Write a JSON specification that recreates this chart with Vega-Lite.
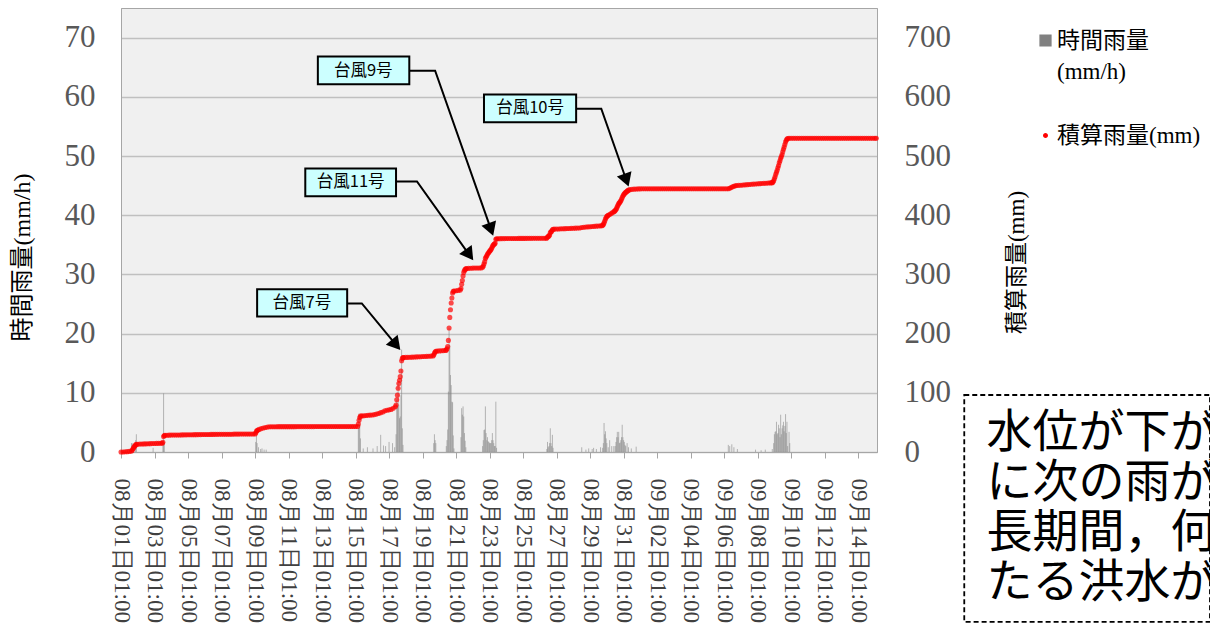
{
"$schema": "https://vega.github.io/schema/vega-lite/v6.json",
"width": 756, "height": 444,
"autosize": {"type": "none"},
"padding": {"left": 121, "top": 8, "right": 333, "bottom": 182},
"background": "white",
"config": {"view": {"fill": "#f0f0f0", "stroke": "#a6a6a6", "strokeWidth": 1}, "axis": {"titleFontWeight": "normal"}},
"layer": [
{"layer": [
{"data": {"values": [
{"t":"0801 16","r":1.5},{"t":"0801 17","r":1.5},{"t":"0801 22","r":2},{"t":"0801 23","r":3},{"t":"0802 23","r":0.7},
{"t":"0803 13","r":1.5},{"t":"0803 14","r":9.9},{"t":"0803 15","r":1.6},
{"t":"0809 02","r":1.7},{"t":"0809 03","r":2.7},{"t":"0809 04","r":1.5},{"t":"0809 06","r":0.8},{"t":"0809 09","r":0.5},{"t":"0809 11","r":0.6},{"t":"0809 14","r":0.4},{"t":"0809 17","r":0.4},
{"t":"0815 05","r":4},{"t":"0815 06","r":6.5},{"t":"0815 07","r":4.6},{"t":"0815 08","r":2.3},{"t":"0815 12","r":0.6},{"t":"0815 18","r":0.8},
{"t":"0816 02","r":0.6},{"t":"0816 08","r":1.0},{"t":"0816 13","r":2.9},{"t":"0816 17","r":1.1},{"t":"0816 20","r":1.0},
{"t":"0817 01","r":1.7},{"t":"0817 06","r":1.5},{"t":"0817 09","r":0.8},{"t":"0817 11","r":3},{"t":"0817 12","r":8.8},{"t":"0817 13","r":7.7},{"t":"0817 14","r":11.6},{"t":"0817 15","r":8},{"t":"0817 16","r":5.7},{"t":"0817 17","r":6},{"t":"0817 18","r":9.6},{"t":"0817 19","r":17.3},{"t":"0817 20","r":4},{"t":"0817 21","r":1.2},
{"t":"0819 17","r":1.5},{"t":"0819 18","r":3},{"t":"0819 19","r":2},{"t":"0819 20","r":1.5},
{"t":"0820 11","r":1},{"t":"0820 12","r":2},{"t":"0820 13","r":3.8},{"t":"0820 14","r":10.2},{"t":"0820 15","r":20.9},{"t":"0820 16","r":18},{"t":"0820 17","r":13},{"t":"0820 18","r":11.3},{"t":"0820 19","r":8.5},{"t":"0820 20","r":8.4},{"t":"0820 21","r":2.8},{"t":"0820 22","r":0.6},
{"t":"0821 08","r":2.5},{"t":"0821 09","r":7.4},{"t":"0821 10","r":6.3},{"t":"0821 11","r":7.7},{"t":"0821 12","r":6},{"t":"0821 13","r":3.2},{"t":"0821 14","r":1.9},{"t":"0821 15","r":0.8},
{"t":"0822 15","r":1},{"t":"0822 16","r":2},{"t":"0822 17","r":3.7},{"t":"0822 18","r":3.8},{"t":"0822 19","r":7.7},{"t":"0822 20","r":3.2},{"t":"0822 21","r":2},{"t":"0822 22","r":2.5},{"t":"0822 23","r":1.8},{"t":"0823 00","r":1.7},{"t":"0823 01","r":1.5},{"t":"0823 02","r":1.5},{"t":"0823 03","r":1.5},{"t":"0823 04","r":2},{"t":"0823 05","r":3.2},{"t":"0823 06","r":2},{"t":"0823 07","r":1.5},{"t":"0823 08","r":1},{"t":"0823 09","r":1},{"t":"0823 10","r":8.5},{"t":"0823 11","r":0.7},
{"t":"0826 11","r":0.5},{"t":"0826 12","r":1.7},{"t":"0826 13","r":0.8},{"t":"0826 14","r":1},{"t":"0826 15","r":1.5},{"t":"0826 16","r":4},{"t":"0826 17","r":1.5},{"t":"0826 18","r":1},{"t":"0826 19","r":2.9},{"t":"0826 20","r":0.7},
{"t":"0828 13","r":0.8},{"t":"0828 19","r":0.4},{"t":"0828 23","r":0.6},{"t":"0829 04","r":0.5},{"t":"0829 06","r":0.7},{"t":"0829 10","r":0.5},{"t":"0829 16","r":0.8},
{"t":"0829 19","r":0.7},{"t":"0829 20","r":1.5},{"t":"0829 21","r":4.9},{"t":"0829 22","r":3},{"t":"0829 23","r":3.5},{"t":"0830 00","r":2.3},{"t":"0830 01","r":1.5},{"t":"0830 03","r":0.8},{"t":"0830 05","r":2.0},{"t":"0830 08","r":1},{"t":"0830 11","r":1},{"t":"0830 13","r":1},{"t":"0830 14","r":1.7},{"t":"0830 15","r":2.5},{"t":"0830 16","r":3.4},{"t":"0830 17","r":2.5},{"t":"0830 18","r":3.4},{"t":"0830 19","r":1.5},{"t":"0830 20","r":1.6},{"t":"0830 21","r":2},{"t":"0830 22","r":2.5},{"t":"0830 23","r":4.6},{"t":"0831 00","r":2.5},{"t":"0831 01","r":2},{"t":"0831 02","r":1.7},{"t":"0831 03","r":1.2},{"t":"0831 04","r":1},{"t":"0831 06","r":1.5},{"t":"0831 08","r":0.8},{"t":"0831 12","r":0.6},{"t":"0831 19","r":0.9},
{"t":"0906 07","r":1.2},{"t":"0906 09","r":1},{"t":"0906 12","r":1.3},{"t":"0906 15","r":0.8},{"t":"0906 20","r":0.5},{"t":"0907 22","r":0.4},{"t":"0908 06","r":0.3},{"t":"0908 12","r":0.4},{"t":"0908 22","r":0.5},
{"t":"0909 00","r":1.5},{"t":"0909 01","r":3},{"t":"0909 02","r":3.4},{"t":"0909 03","r":3.5},{"t":"0909 04","r":5.1},{"t":"0909 05","r":3},{"t":"0909 06","r":3.2},{"t":"0909 07","r":4.6},{"t":"0909 08","r":4},{"t":"0909 09","r":2.5},{"t":"0909 10","r":6.3},{"t":"0909 11","r":3},{"t":"0909 12","r":4},{"t":"0909 13","r":4.5},{"t":"0909 14","r":5.1},{"t":"0909 15","r":3.5},{"t":"0909 16","r":4.4},{"t":"0909 17","r":6.4},{"t":"0909 18","r":3.2},{"t":"0909 19","r":5.1},{"t":"0909 20","r":1},{"t":"0909 22","r":3.4},{"t":"0909 23","r":1.5}
], "format": {"parse": {"t": "date:'%m%d %H'"}}},
 "mark": {"type": "rule", "strokeWidth": 1, "opacity": 0.55},
 "encoding": {
  "x": {"field": "t", "type": "temporal", "title": null,
   "scale": {"domain": [{"year":1900,"month":8,"date":1,"hours":1},{"year":1900,"month":9,"date":15,"hours":4}]},
   "axis": {"values": [
    {"year":1900,"month":8,"date":1,"hours":1},{"year":1900,"month":8,"date":3,"hours":1},{"year":1900,"month":8,"date":5,"hours":1},{"year":1900,"month":8,"date":7,"hours":1},{"year":1900,"month":8,"date":9,"hours":1},{"year":1900,"month":8,"date":11,"hours":1},{"year":1900,"month":8,"date":13,"hours":1},{"year":1900,"month":8,"date":15,"hours":1},{"year":1900,"month":8,"date":17,"hours":1},{"year":1900,"month":8,"date":19,"hours":1},{"year":1900,"month":8,"date":21,"hours":1},{"year":1900,"month":8,"date":23,"hours":1},{"year":1900,"month":8,"date":25,"hours":1},{"year":1900,"month":8,"date":27,"hours":1},{"year":1900,"month":8,"date":29,"hours":1},{"year":1900,"month":8,"date":31,"hours":1},{"year":1900,"month":9,"date":2,"hours":1},{"year":1900,"month":9,"date":4,"hours":1},{"year":1900,"month":9,"date":6,"hours":1},{"year":1900,"month":9,"date":8,"hours":1},{"year":1900,"month":9,"date":10,"hours":1},{"year":1900,"month":9,"date":12,"hours":1},{"year":1900,"month":9,"date":14,"hours":1}],
    "tickCount": 60, "format": "%m月%d日%H:%M", "formatType": "time", "labelAngle": 90, "labelFont": "Liberation Serif", "labelFontSize": 23, "labelColor": "#404040", "labelPadding": 20, "tickSize": 6, "tickColor": "#a6a6a6", "domainColor": "#a6a6a6", "grid": false, "labelOverlap": false, "labelSeparation": 0, "labelFlush": false, "labelBound": false}},
  "y": {"field": "r", "type": "quantitative", "title": "時間雨量(mm/h)",
   "scale": {"domain": [0, 75], "nice": false, "zero": true},
   "axis": {"values": [0,10,20,30,40,50,60,70], "labelFont": "Liberation Serif", "labelFontSize": 31, "labelColor": "#595959", "labelPadding": 26, "tickSize": 0, "domainColor": "#a6a6a6", "grid": true, "gridColor": "#c0c0c0", "gridWidth": 1.5, "titleFont": "Liberation Serif, Noto Sans CJK JP", "titleFontSize": 24, "titleColor": "#000000", "titlePadding": 30, "titleY": 249}},
  "y2": {"datum": 0},
  "color": {"datum": "時間雨量(mm/h)", "scale": {"domain": ["時間雨量(mm/h)", "積算雨量(mm)"], "range": ["#808080", "#ff0000"]},
   "legend": {"title": null, "orient": "none", "legendX": 913, "legendY": 21, "padding": 0, "labelFont": "Liberation Serif, Noto Sans CJK JP", "labelFontSize": 23, "labelColor": "#000000", "labelLimit": 300, "labelOffset": 0, "rowPadding": 40, "symbolOpacity": 1,
    "labelExpr": "datum.label === '時間雨量(mm/h)' ? ['時間雨量', '(mm/h)'] : datum.label",
    "encode": {"symbols": {"update": {"shape": {"signal": "datum.value === '積算雨量(mm)' ? 'circle' : 'square'"}, "size": {"signal": "datum.value === '積算雨量(mm)' ? 12 : 115"}, "fill": {"signal": "datum.value === '積算雨量(mm)' ? '#ff4040' : '#808080'"}, "stroke": {"value": "transparent"}, "opacity": {"value": 1}}}, "labels": {"update": {"lineHeight": {"value": 31}}}}}}
 }},
{"data": {"values": [
 {"label":"台風7号","t1":"0809 04","t2":"0814 13","v1":22.9,"v2":27.5,"tc":"0811 20","vc":25.2},
 {"label":"台風9号","t1":"0812 19","t2":"0818 06","v1":62.1,"v2":66.8,"tc":"0815 12","vc":64.4},
 {"label":"台風11号","t1":"0812 01","t2":"0817 11","v1":43.2,"v2":47.9,"tc":"0814 18","vc":45.6},
 {"label":"台風10号","t1":"0822 17","t2":"0828 05","v1":55.7,"v2":60.4,"tc":"0825 11","vc":58.1}
], "format": {"parse": {"t1": "date:'%m%d %H'", "t2": "date:'%m%d %H'", "tc": "date:'%m%d %H'"}}},
 "layer": [
  {"mark": {"type": "rect", "fill": "#ccffff", "stroke": "#000000", "strokeWidth": 2},
   "encoding": {"x": {"field": "t1", "type": "temporal", "title": null}, "x2": {"field": "t2"}, "y": {"field": "v1", "type": "quantitative", "title": "時間雨量(mm/h)"}, "y2": {"field": "v2"}}},
  {"mark": {"type": "text", "font": "Noto Sans CJK JP", "fontSize": 16.5, "color": "#000000", "align": "center", "baseline": "middle"},
   "encoding": {"x": {"field": "tc", "type": "temporal", "title": null}, "y": {"field": "vc", "type": "quantitative", "title": "時間雨量(mm/h)"}, "text": {"field": "label"}}}
 ]},
{"data": {"values": [
 {"label":"台風7号","o":1,"t":"0814 13","v":25.1},{"label":"台風7号","o":2,"t":"0815 10","v":25.1},{"label":"台風7号","o":3,"t":"0817 11","v":18.1},
 {"label":"台風9号","o":1,"t":"0818 06","v":64.4},{"label":"台風9号","o":2,"t":"0819 19","v":64.4},{"label":"台風9号","o":3,"t":"0823 03","v":37.6},
 {"label":"台風11号","o":1,"t":"0817 11","v":45.7},{"label":"台風11号","o":2,"t":"0818 17","v":45.7},{"label":"台風11号","o":3,"t":"0821 20","v":33.3},
 {"label":"台風10号","o":1,"t":"0828 05","v":58.0},{"label":"台風10号","o":2,"t":"0829 17","v":58.0},{"label":"台風10号","o":3,"t":"0831 05","v":45.9}
], "format": {"parse": {"t": "date:'%m%d %H'"}}},
 "layer": [
  {"mark": {"type": "line", "color": "#000000", "strokeWidth": 2},
   "encoding": {"x": {"field": "t", "type": "temporal", "title": null}, "y": {"field": "v", "type": "quantitative", "title": "時間雨量(mm/h)"}, "detail": {"field": "label"}, "order": {"field": "o"}}},
  {"transform": [{"filter": "datum.o === 3 && (datum.label === '台風9号' || datum.label === '台風10号')"}],
   "mark": {"type": "point", "shape": "triangle-up", "filled": true, "color": "#000000", "opacity": 1, "size": 240, "angle": 160.6},
   "encoding": {"x": {"field": "t", "type": "temporal", "title": null}, "y": {"field": "v", "type": "quantitative", "title": "時間雨量(mm/h)"}}},
  {"transform": [{"filter": "datum.o === 3 && datum.label === '台風11号'"}],
   "mark": {"type": "point", "shape": "triangle-up", "filled": true, "color": "#000000", "opacity": 1, "size": 240, "angle": 144.5},
   "encoding": {"x": {"field": "t", "type": "temporal", "title": null}, "y": {"field": "v", "type": "quantitative", "title": "時間雨量(mm/h)"}}},
  {"transform": [{"filter": "datum.o === 3 && datum.label === '台風7号'"}],
   "mark": {"type": "point", "shape": "triangle-up", "filled": true, "color": "#000000", "opacity": 1, "size": 240, "angle": 140.1},
   "encoding": {"x": {"field": "t", "type": "temporal", "title": null}, "y": {"field": "v", "type": "quantitative", "title": "時間雨量(mm/h)"}}}
 ]},
{"data": {"values": [
 {"t1":"0920 09","t2":"1005 01","v1":9.63,"v2":-28.7,"tt":"0921 17","vt":6.9,"note":"水位が下が\nに次の雨が\n長期間，何\nたる洪水が"}
], "format": {"parse": {"t1": "date:'%m%d %H'", "t2": "date:'%m%d %H'", "tt": "date:'%m%d %H'"}}},
 "layer": [
  {"mark": {"type": "rect", "fill": "#ffffff", "fillOpacity": 0, "stroke": "#000000", "strokeWidth": 1.8, "strokeDash": [5, 3]},
   "encoding": {"x": {"field": "t1", "type": "temporal", "title": null}, "x2": {"field": "t2"}, "y": {"field": "v1", "type": "quantitative", "title": "時間雨量(mm/h)"}, "y2": {"field": "v2"}}},
  {"mark": {"type": "text", "font": "Noto Sans CJK JP", "fontSize": 46, "lineHeight": 50, "lineBreak": "\n", "color": "#000000", "align": "left", "baseline": "top"},
   "encoding": {"x": {"field": "tt", "type": "temporal", "title": null}, "y": {"field": "vt", "type": "quantitative", "title": "時間雨量(mm/h)"}, "text": {"field": "note"}}}
 ]}
]},
{"data": {"values": [
{"t":"0801 01","c":0},{"t":"0801 04","c":0},{"t":"0801 07","c":0.3},{"t":"0801 10","c":0.6},{"t":"0801 13","c":1},{"t":"0801 16","c":1.5},{"t":"0801 17","c":3},{"t":"0801 18","c":5},{"t":"0801 19","c":7},{"t":"0801 20","c":9},{"t":"0801 21","c":10.5},{"t":"0801 22","c":12},{"t":"0801 23","c":13},
{"t":"0802 01","c":13.2},{"t":"0802 04","c":13.4},{"t":"0802 07","c":13.5},{"t":"0802 10","c":13.7},{"t":"0802 13","c":13.8},{"t":"0802 16","c":14},{"t":"0802 19","c":14.1},{"t":"0802 22","c":14.3},
{"t":"0803 01","c":14.4},{"t":"0803 04","c":14.5},{"t":"0803 07","c":14.6},{"t":"0803 10","c":14.7},{"t":"0803 12","c":14.8},{"t":"0803 13","c":16.3},{"t":"0803 14","c":26.2},{"t":"0803 15","c":27.8},{"t":"0803 16","c":28.2},{"t":"0803 19","c":28.4},{"t":"0803 22","c":28.5},
{"t":"0804 01","c":28.6},{"t":"0804 04","c":28.6},{"t":"0804 07","c":28.7},{"t":"0804 10","c":28.8},{"t":"0804 13","c":28.8},{"t":"0804 16","c":28.9},{"t":"0804 19","c":29},{"t":"0804 22","c":29},
{"t":"0805 01","c":29.1},{"t":"0805 04","c":29.1},{"t":"0805 07","c":29.2},{"t":"0805 10","c":29.3},{"t":"0805 13","c":29.3},{"t":"0805 16","c":29.4},{"t":"0805 19","c":29.4},{"t":"0805 22","c":29.5},
{"t":"0806 01","c":29.5},{"t":"0806 04","c":29.6},{"t":"0806 07","c":29.6},{"t":"0806 10","c":29.7},{"t":"0806 13","c":29.7},{"t":"0806 16","c":29.8},{"t":"0806 19","c":29.8},{"t":"0806 22","c":29.9},
{"t":"0807 01","c":29.9},{"t":"0807 04","c":30},{"t":"0807 07","c":30},{"t":"0807 10","c":30},{"t":"0807 13","c":30.1},{"t":"0807 16","c":30.1},{"t":"0807 19","c":30.2},{"t":"0807 22","c":30.2},
{"t":"0808 01","c":30.2},{"t":"0808 04","c":30.3},{"t":"0808 07","c":30.3},{"t":"0808 10","c":30.3},{"t":"0808 13","c":30.4},{"t":"0808 16","c":30.4},{"t":"0808 19","c":30.4},{"t":"0808 22","c":30.5},
{"t":"0809 01","c":30.5},{"t":"0809 02","c":32.2},{"t":"0809 03","c":34.9},{"t":"0809 04","c":36.4},{"t":"0809 05","c":37.2},{"t":"0809 07","c":38.2},{"t":"0809 10","c":39.5},{"t":"0809 13","c":40.6},{"t":"0809 16","c":41.5},{"t":"0809 19","c":42.2},{"t":"0809 22","c":42.6},
{"t":"0810 01","c":42.7},{"t":"0810 04","c":42.7},{"t":"0810 07","c":42.7},{"t":"0810 10","c":42.8},{"t":"0810 13","c":42.8},{"t":"0810 16","c":42.8},{"t":"0810 19","c":42.8},{"t":"0810 22","c":42.8},
{"t":"0811 01","c":42.8},{"t":"0811 04","c":42.8},{"t":"0811 07","c":42.8},{"t":"0811 10","c":42.8},{"t":"0811 13","c":42.9},{"t":"0811 16","c":42.9},{"t":"0811 19","c":42.9},{"t":"0811 22","c":42.9},
{"t":"0812 01","c":42.9},{"t":"0812 04","c":42.9},{"t":"0812 07","c":42.9},{"t":"0812 10","c":42.9},{"t":"0812 13","c":42.9},{"t":"0812 16","c":43},{"t":"0812 19","c":43},{"t":"0812 22","c":43},
{"t":"0813 01","c":43},{"t":"0813 04","c":43},{"t":"0813 07","c":43},{"t":"0813 10","c":43},{"t":"0813 13","c":43},{"t":"0813 16","c":43},{"t":"0813 19","c":43},{"t":"0813 22","c":43},
{"t":"0814 01","c":43},{"t":"0814 04","c":43},{"t":"0814 07","c":43},{"t":"0814 10","c":43},{"t":"0814 13","c":43.1},{"t":"0814 16","c":43.1},{"t":"0814 19","c":43.1},{"t":"0814 22","c":43.1},
{"t":"0815 01","c":43.1},{"t":"0815 04","c":43.2},{"t":"0815 05","c":47.2},{"t":"0815 06","c":53.7},{"t":"0815 07","c":58.3},{"t":"0815 08","c":60.6},{"t":"0815 10","c":61},{"t":"0815 13","c":61.3},{"t":"0815 16","c":61.6},{"t":"0815 19","c":62},{"t":"0815 22","c":62.3},
{"t":"0816 01","c":62.6},{"t":"0816 04","c":63.2},{"t":"0816 07","c":64},{"t":"0816 10","c":65},{"t":"0816 13","c":66.5},{"t":"0816 16","c":67.5},{"t":"0816 19","c":69.5},{"t":"0816 22","c":70.5},
{"t":"0817 01","c":71.2},{"t":"0817 04","c":72},{"t":"0817 07","c":73.8},{"t":"0817 10","c":76.5},{"t":"0817 11","c":79.5},{"t":"0817 12","c":88.3},{"t":"0817 13","c":96},{"t":"0817 14","c":107.6},{"t":"0817 15","c":115.6},{"t":"0817 16","c":121.3},{"t":"0817 17","c":127.3},{"t":"0817 18","c":136.9},{"t":"0817 19","c":154.2},{"t":"0817 20","c":158.2},{"t":"0817 21","c":159.4},{"t":"0817 22","c":159.7},
{"t":"0818 01","c":159.8},{"t":"0818 04","c":159.9},{"t":"0818 07","c":160},{"t":"0818 10","c":160.2},{"t":"0818 13","c":160.4},{"t":"0818 16","c":160.6},{"t":"0818 19","c":160.8},{"t":"0818 22","c":161},
{"t":"0819 01","c":161.2},{"t":"0819 04","c":161.4},{"t":"0819 07","c":161.6},{"t":"0819 10","c":161.8},{"t":"0819 13","c":162},{"t":"0819 16","c":162.3},{"t":"0819 17","c":163.8},{"t":"0819 18","c":166.8},{"t":"0819 19","c":168.8},{"t":"0819 20","c":170.3},{"t":"0819 22","c":170.6},
{"t":"0820 01","c":170.8},{"t":"0820 04","c":171},{"t":"0820 07","c":171.3},{"t":"0820 10","c":171.5},{"t":"0820 11","c":172.5},{"t":"0820 12","c":174.5},{"t":"0820 13","c":178.3},{"t":"0820 14","c":188.5},{"t":"0820 15","c":209.4},{"t":"0820 16","c":227.4},{"t":"0820 17","c":240.4},{"t":"0820 18","c":251.7},{"t":"0820 19","c":260.2},{"t":"0820 20","c":268.6},{"t":"0820 21","c":271.4},{"t":"0820 22","c":272},
{"t":"0821 01","c":272.5},{"t":"0821 04","c":273},{"t":"0821 07","c":273.5},{"t":"0821 08","c":276},{"t":"0821 09","c":283.4},{"t":"0821 10","c":289.7},{"t":"0821 11","c":297.4},{"t":"0821 12","c":303.4},{"t":"0821 13","c":306.6},{"t":"0821 14","c":308.5},{"t":"0821 15","c":309.3},{"t":"0821 16","c":309.8},{"t":"0821 19","c":310.2},{"t":"0821 22","c":310.5},
{"t":"0822 01","c":310.6},{"t":"0822 04","c":310.7},{"t":"0822 07","c":310.8},{"t":"0822 10","c":310.9},{"t":"0822 13","c":311},{"t":"0822 15","c":312},{"t":"0822 16","c":314},{"t":"0822 17","c":317.7},{"t":"0822 18","c":321.5},{"t":"0822 19","c":327},{"t":"0822 20","c":329.5},{"t":"0822 21","c":331.5},{"t":"0822 22","c":334},{"t":"0822 23","c":335.8},
{"t":"0823 00","c":337.5},{"t":"0823 01","c":339},{"t":"0823 02","c":340.5},{"t":"0823 03","c":342},{"t":"0823 04","c":344},{"t":"0823 05","c":347},{"t":"0823 06","c":349},{"t":"0823 07","c":350.5},{"t":"0823 08","c":351.5},{"t":"0823 09","c":352.5},{"t":"0823 10","c":359.5},{"t":"0823 11","c":360.2},{"t":"0823 13","c":360.3},{"t":"0823 16","c":360.4},{"t":"0823 19","c":360.5},{"t":"0823 22","c":360.5},
{"t":"0824 01","c":360.6},{"t":"0824 04","c":360.6},{"t":"0824 07","c":360.6},{"t":"0824 10","c":360.7},{"t":"0824 13","c":360.7},{"t":"0824 16","c":360.7},{"t":"0824 19","c":360.8},{"t":"0824 22","c":360.8},
{"t":"0825 01","c":360.8},{"t":"0825 04","c":360.8},{"t":"0825 07","c":360.9},{"t":"0825 10","c":360.9},{"t":"0825 13","c":360.9},{"t":"0825 16","c":361},{"t":"0825 19","c":361},{"t":"0825 22","c":361},
{"t":"0826 01","c":361},{"t":"0826 04","c":361},{"t":"0826 07","c":361},{"t":"0826 10","c":361},{"t":"0826 11","c":361.5},{"t":"0826 12","c":363.2},{"t":"0826 13","c":364},{"t":"0826 14","c":365},{"t":"0826 15","c":366.5},{"t":"0826 16","c":370.5},{"t":"0826 17","c":372},{"t":"0826 18","c":373},{"t":"0826 19","c":375.5},{"t":"0826 20","c":376.2},{"t":"0826 22","c":376.5},
{"t":"0827 01","c":376.7},{"t":"0827 04","c":376.8},{"t":"0827 07","c":377},{"t":"0827 10","c":377.1},{"t":"0827 13","c":377.3},{"t":"0827 16","c":377.5},{"t":"0827 19","c":377.6},{"t":"0827 22","c":377.8},
{"t":"0828 01","c":378},{"t":"0828 04","c":378.1},{"t":"0828 07","c":378.3},{"t":"0828 10","c":378.5},{"t":"0828 13","c":379.3},{"t":"0828 16","c":379.7},{"t":"0828 19","c":380},{"t":"0828 22","c":380.3},
{"t":"0829 01","c":380.6},{"t":"0829 04","c":381},{"t":"0829 07","c":381.2},{"t":"0829 10","c":381.5},{"t":"0829 13","c":381.7},{"t":"0829 16","c":382},{"t":"0829 18","c":382.3},{"t":"0829 19","c":383},{"t":"0829 20","c":384.5},{"t":"0829 21","c":387},{"t":"0829 22","c":390},{"t":"0829 23","c":393.5},
{"t":"0830 00","c":396},{"t":"0830 01","c":398},{"t":"0830 02","c":399},{"t":"0830 03","c":399.8},{"t":"0830 05","c":401.3},{"t":"0830 07","c":402.8},{"t":"0830 09","c":404.3},{"t":"0830 11","c":405.8},{"t":"0830 12","c":406.8},{"t":"0830 13","c":407.8},{"t":"0830 14","c":409.5},{"t":"0830 15","c":411.5},{"t":"0830 16","c":414.5},{"t":"0830 17","c":417},{"t":"0830 18","c":419.5},{"t":"0830 19","c":421},{"t":"0830 20","c":422.5},{"t":"0830 21","c":424.5},{"t":"0830 22","c":427},{"t":"0830 23","c":430},
{"t":"0831 00","c":432.5},{"t":"0831 01","c":434.5},{"t":"0831 02","c":436},{"t":"0831 03","c":437.5},{"t":"0831 04","c":438.5},{"t":"0831 05","c":439.5},{"t":"0831 06","c":440.5},{"t":"0831 07","c":441.5},{"t":"0831 08","c":442.3},{"t":"0831 10","c":443.2},{"t":"0831 13","c":443.7},{"t":"0831 16","c":444},{"t":"0831 19","c":444.2},{"t":"0831 22","c":444.4},
{"t":"0901 01","c":444.5},{"t":"0901 04","c":444.6},{"t":"0901 07","c":444.7},{"t":"0901 10","c":444.7},{"t":"0901 13","c":444.7},{"t":"0901 16","c":444.7},{"t":"0901 19","c":444.7},{"t":"0901 22","c":444.7},
{"t":"0902 01","c":444.7},{"t":"0902 04","c":444.7},{"t":"0902 07","c":444.7},{"t":"0902 10","c":444.7},{"t":"0902 13","c":444.7},{"t":"0902 16","c":444.7},{"t":"0902 19","c":444.7},{"t":"0902 22","c":444.7},
{"t":"0903 01","c":444.7},{"t":"0903 04","c":444.7},{"t":"0903 07","c":444.7},{"t":"0903 10","c":444.7},{"t":"0903 13","c":444.7},{"t":"0903 16","c":444.7},{"t":"0903 19","c":444.7},{"t":"0903 22","c":444.7},
{"t":"0904 01","c":444.7},{"t":"0904 04","c":444.7},{"t":"0904 07","c":444.7},{"t":"0904 10","c":444.7},{"t":"0904 13","c":444.7},{"t":"0904 16","c":444.7},{"t":"0904 19","c":444.7},{"t":"0904 22","c":444.7},
{"t":"0905 01","c":444.7},{"t":"0905 04","c":444.7},{"t":"0905 07","c":444.7},{"t":"0905 10","c":444.7},{"t":"0905 13","c":444.7},{"t":"0905 16","c":444.7},{"t":"0905 19","c":444.7},{"t":"0905 22","c":444.7},
{"t":"0906 01","c":444.7},{"t":"0906 04","c":444.7},{"t":"0906 07","c":444.8},{"t":"0906 09","c":445.5},{"t":"0906 11","c":446.8},{"t":"0906 13","c":448},{"t":"0906 15","c":449},{"t":"0906 17","c":449.7},{"t":"0906 19","c":450.1},{"t":"0906 22","c":450.4},
{"t":"0907 01","c":450.7},{"t":"0907 04","c":451},{"t":"0907 07","c":451.3},{"t":"0907 10","c":451.6},{"t":"0907 13","c":451.9},{"t":"0907 16","c":452.2},{"t":"0907 19","c":452.5},{"t":"0907 22","c":452.8},
{"t":"0908 01","c":453},{"t":"0908 04","c":453.3},{"t":"0908 07","c":453.5},{"t":"0908 10","c":453.8},{"t":"0908 13","c":454},{"t":"0908 16","c":454.3},{"t":"0908 19","c":454.6},{"t":"0908 21","c":454.9},{"t":"0908 22","c":455},{"t":"0908 23","c":456},
{"t":"0909 00","c":458},{"t":"0909 01","c":461.5},{"t":"0909 02","c":465},{"t":"0909 03","c":469},{"t":"0909 04","c":472.5},{"t":"0909 05","c":476},{"t":"0909 06","c":480},{"t":"0909 07","c":484},{"t":"0909 08","c":488.5},{"t":"0909 09","c":492},{"t":"0909 10","c":496},{"t":"0909 11","c":499},{"t":"0909 12","c":502.5},{"t":"0909 13","c":507},{"t":"0909 14","c":511.5},{"t":"0909 15","c":515},{"t":"0909 16","c":519.5},{"t":"0909 17","c":523.5},{"t":"0909 18","c":526.5},{"t":"0909 19","c":528.5},{"t":"0909 20","c":529.5},{"t":"0909 22","c":529.9},
{"t":"0910 01","c":530},{"t":"0910 04","c":530},{"t":"0910 07","c":530},{"t":"0910 10","c":530},{"t":"0910 13","c":530},{"t":"0910 16","c":530},{"t":"0910 19","c":530},{"t":"0910 22","c":530},
{"t":"0911 01","c":530},{"t":"0911 04","c":530},{"t":"0911 07","c":530},{"t":"0911 10","c":530},{"t":"0911 13","c":530},{"t":"0911 16","c":530},{"t":"0911 19","c":530},{"t":"0911 22","c":530},
{"t":"0912 01","c":530},{"t":"0912 04","c":530},{"t":"0912 07","c":530},{"t":"0912 10","c":530},{"t":"0912 13","c":530},{"t":"0912 16","c":530},{"t":"0912 19","c":530},{"t":"0912 22","c":530},
{"t":"0913 01","c":530},{"t":"0913 04","c":530},{"t":"0913 07","c":530},{"t":"0913 10","c":530},{"t":"0913 13","c":530},{"t":"0913 16","c":530},{"t":"0913 19","c":530},{"t":"0913 22","c":530},
{"t":"0914 01","c":530},{"t":"0914 04","c":530},{"t":"0914 07","c":530},{"t":"0914 10","c":530},{"t":"0914 13","c":530},{"t":"0914 16","c":530},{"t":"0914 19","c":530},{"t":"0914 22","c":530},
{"t":"0915 01","c":530},{"t":"0915 03","c":530}
], "format": {"parse": {"t": "date:'%m%d %H'"}}},
 "mark": {"type": "point", "shape": "circle", "filled": true, "size": 26, "opacity": 0.7},
 "encoding": {
  "x": {"field": "t", "type": "temporal", "title": null,
   "axis": {"tickCount": 60, "format": "%m月%d日%H:%M", "formatType": "time", "labelAngle": 90, "labelOverlap": false, "labelSeparation": 0, "labelFont": "Liberation Serif", "labelFontSize": 23}},
  "y": {"field": "c", "type": "quantitative", "title": "積算雨量(mm)",
   "scale": {"domain": [0, 750], "nice": false},
   "axis": {"orient": "right", "values": [0,100,200,300,400,500,600,700], "labelFont": "Liberation Serif", "labelFontSize": 31, "labelColor": "#595959", "labelPadding": 27, "tickSize": 0, "domainColor": "#a6a6a6", "grid": false, "titleFont": "Liberation Serif, Noto Sans CJK JP", "titleFontSize": 23, "titleColor": "#000000", "titleAngle": -90, "titlePadding": 78, "titleY": 254}},
  "color": {"datum": "積算雨量(mm)",
   "legend": {"title": null, "orient": "none", "legendX": 913, "legendY": 21, "padding": 0, "labelFont": "Liberation Serif, Noto Sans CJK JP", "labelFontSize": 23, "labelColor": "#000000", "labelLimit": 300, "labelOffset": 0, "rowPadding": 40, "symbolOpacity": 1,
    "labelExpr": "datum.label === '時間雨量(mm/h)' ? ['時間雨量', '(mm/h)'] : datum.label",
    "encode": {"symbols": {"update": {"shape": {"signal": "datum.value === '積算雨量(mm)' ? 'circle' : 'square'"}, "size": {"signal": "datum.value === '積算雨量(mm)' ? 12 : 115"}, "fill": {"signal": "datum.value === '積算雨量(mm)' ? '#ff4040' : '#808080'"}, "stroke": {"value": "transparent"}, "opacity": {"value": 1}}}, "labels": {"update": {"lineHeight": {"value": 31}}}}}}
 }}
],
"resolve": {"scale": {"y": "independent"}, "axis": {"y": "independent"}}
}
